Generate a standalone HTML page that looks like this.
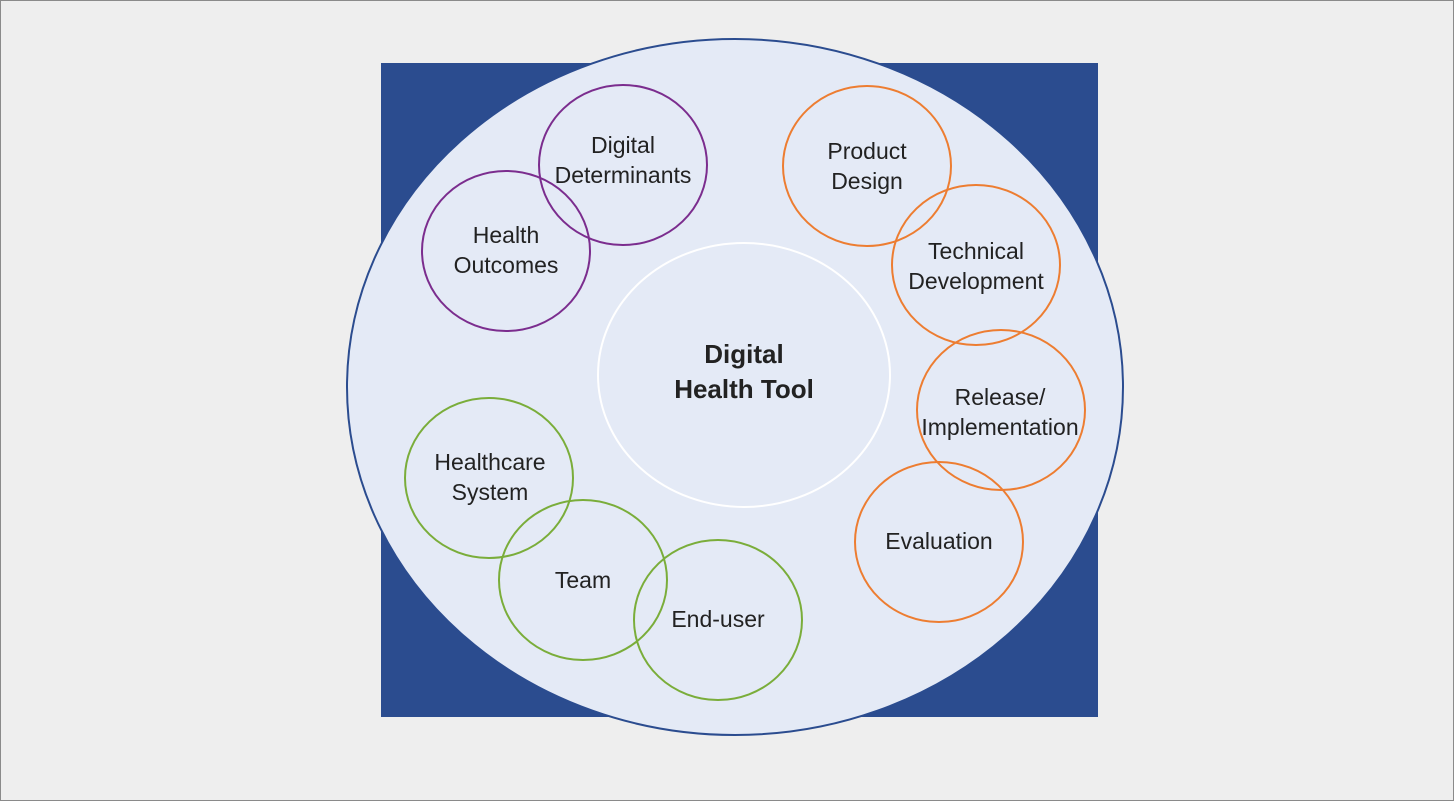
<!DOCTYPE html>
<html><head><meta charset="utf-8"><style>
html,body{margin:0;padding:0;background:#eeeeee;}
svg{display:block;}
text{font-family:"Liberation Sans",sans-serif;font-size:23px;fill:#222;text-anchor:middle;}
</style></head><body>
<svg width="1454" height="801" viewBox="0 0 1454 801" xmlns="http://www.w3.org/2000/svg">
<rect x="0.5" y="0.5" width="1453" height="800" fill="#eeeeee" stroke="#8a8a8a"/>
<rect x="381" y="63" width="717" height="654" fill="#2b4c8f"/>
<ellipse cx="735" cy="387" rx="388" ry="348" fill="#e4eaf6" stroke="#2b4c8f" stroke-width="2"/>
<ellipse cx="744" cy="375" rx="146" ry="132" fill="#e4eaf6" stroke="#ffffff" stroke-width="2"/>
<g fill="none" stroke-width="2">
<ellipse cx="623" cy="165" rx="84" ry="80" stroke="#7b2d8e"/>
<ellipse cx="506" cy="251" rx="84" ry="80" stroke="#7b2d8e"/>
<ellipse cx="867" cy="166" rx="84" ry="80" stroke="#ed7d31"/>
<ellipse cx="976" cy="265" rx="84" ry="80" stroke="#ed7d31"/>
<ellipse cx="1001" cy="410" rx="84" ry="80" stroke="#ed7d31"/>
<ellipse cx="939" cy="542" rx="84" ry="80" stroke="#ed7d31"/>
<ellipse cx="489" cy="478" rx="84" ry="80" stroke="#7aad3a"/>
<ellipse cx="583" cy="580" rx="84" ry="80" stroke="#7aad3a"/>
<ellipse cx="718" cy="620" rx="84" ry="80" stroke="#7aad3a"/>
</g>
<text x="744" y="363" style="font-weight:bold;font-size:26px">Digital</text>
<text x="744" y="398" style="font-weight:bold;font-size:26px">Health Tool</text>
<text x="623" y="153">Digital</text>
<text x="623" y="183">Determinants</text>
<text x="506" y="243">Health</text>
<text x="506" y="273">Outcomes</text>
<text x="867" y="159">Product</text>
<text x="867" y="189">Design</text>
<text x="976" y="259">Technical</text>
<text x="976" y="289">Development</text>
<text x="1000" y="405">Release/</text>
<text x="1000" y="435">Implementation</text>
<text x="939" y="549">Evaluation</text>
<text x="490" y="470">Healthcare</text>
<text x="490" y="500">System</text>
<text x="583" y="588">Team</text>
<text x="718" y="627">End-user</text>
</svg>
</body></html>
